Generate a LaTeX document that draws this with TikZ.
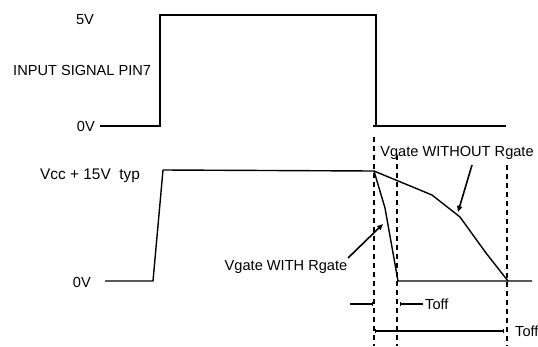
\documentclass[tikz,border=0pt]{standalone}
\usepackage{fontspec}
\setmainfont{Liberation Sans}
\usetikzlibrary{arrows.meta}
\begin{document}
\begin{tikzpicture}[x=1pt,y=-1pt,
  lbl/.style={inner sep=0pt,font=\fontsize{14.6}{17}\selectfont},
  sig/.style={line width=1.9pt,line join=miter},
  sig2/.style={line width=1.4pt,line join=round},
  guide/.style={line width=1.2pt,dash pattern=on 5pt off 4pt},
  pointer/.style={line width=1.6pt,-{Triangle[length=6pt,width=5pt]}},
  span/.style={line width=1.5pt,{Bar[width=4pt,line width=1pt]}-{Bar[width=4pt,line width=1pt]}},
]
\useasboundingbox (0,0) rectangle (538,346);

% labels
\node[lbl] (l5v) at (85,20) {5V};
\node[lbl,anchor=west] (lin) at (13,70) {INPUT SIGNAL PIN7};
\node[lbl,anchor=east] (l0a) at (95,126) {0V};
\node[lbl,anchor=west,font=\fontsize{15.4}{18}\selectfont] (lvcc) at (40,176) {Vcc + 15V\ \ typ};
\node[lbl,anchor=east] (l0b) at (91,282) {0V};
\node[lbl] (lwith) at (286,267) {Vgate WITH Rgate};
\node[lbl] (lwo) at (457,153) {Vgate WITHOUT Rgate};
\node[lbl,anchor=west] (t1) at (425,304) {Toff};
\node[lbl,anchor=west] (t2) at (515,331) {Toff};

% input signal
\coordinate (a0) at (100,126);
\coordinate (a1) at (160,126);
\coordinate (a2) at (160,15);
\coordinate (a3) at (376,15);
\coordinate (a4) at (376,126);
\coordinate (a5) at (506,126);
\draw[sig] (a0) -- (a1) -- (a2) -- (a3) -- (a4);
\draw[sig] (373,126) -- (a5);

% gate waveform
\coordinate (g0) at (105,281);
\coordinate (g1) at (153,281);
\coordinate (g2) at (163,170);
\coordinate (g3) at (374,171);
\coordinate (w1) at (385,208);
\coordinate (w2) at (398,281);
\coordinate (g4) at (532,281);
\coordinate (n1) at (432,195);
\coordinate (n2) at (460,217);
\coordinate (n3) at (486,253);
\coordinate (n4) at (508,281);
\draw[sig2] (g0) -- (g1) -- (g2) -- (g3) -- (w1) -- (w2) -- (g4);
\draw[sig2] (g3) -- (n1) -- (n2) -- (n3) -- (n4);

% dashed guides
\coordinate (d1t) at (374,137); \coordinate (d1b) at (374,346);
\coordinate (d2t) at (397,155); \coordinate (d2b) at (397,346);
\coordinate (d3t) at (507,165); \coordinate (d3b) at (507,346);
\draw[guide] (d1t) -- (d1b);
\draw[guide] (d2t) -- (d2b);
\draw[guide] (d3t) -- (d3b);

% pointers
\coordinate (pwo) at (472,165);
\coordinate (pwot) at (458,212);
\draw[pointer] (pwo) -- (pwot);
\coordinate (pw) at (348,258);
\coordinate (pwt) at (383,224);
\draw[pointer] (pw) -- (pwt);

% Toff markers
\coordinate (m1a) at (350,304); \coordinate (m1b) at (373,304);
\coordinate (m2a) at (423,304); \coordinate (m2b) at (400,304);
\coordinate (m3a) at (375,331); \coordinate (m3b) at (504,331);
\draw[line width=1.5pt,-{Bar[width=4pt,line width=1pt]}] (m1a) -- (m1b);
\draw[line width=1.5pt,-{Bar[width=4pt,line width=1pt]}] (m2a) -- (m2b);
\draw[span] (m3a) -- (m3b);
\end{tikzpicture}
\end{document}
